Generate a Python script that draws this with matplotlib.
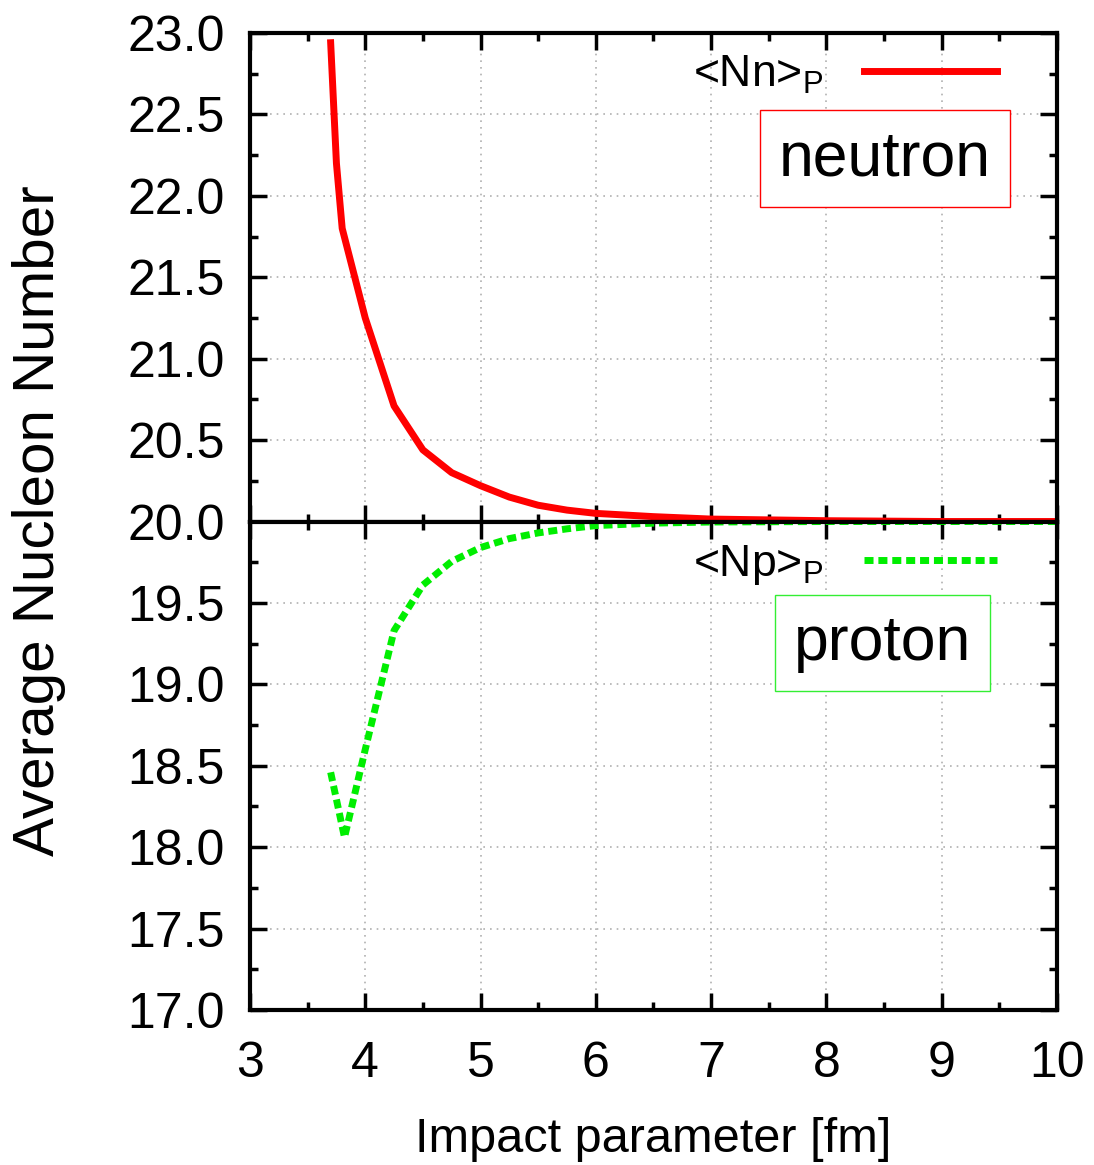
import matplotlib
matplotlib.use("Agg")
import matplotlib.pyplot as plt
import numpy as np

plt.rcParams['font.family'] = ['Liberation Sans', 'DejaVu Sans']
plt.rcParams['mathtext.fontset'] = 'custom'
plt.rcParams['mathtext.rm'] = 'Liberation Sans'

# neutron number vs impact parameter
b_n = [3.7, 3.75, 3.8, 4.0, 4.25, 4.5, 4.75, 5.0, 5.25, 5.5, 5.75, 6.0, 6.5, 7.0, 7.5, 8.0, 9.0, 10.0]
nn = [22.94, 22.2, 21.8, 21.25, 20.71, 20.44, 20.30, 20.22, 20.15, 20.10, 20.07, 20.05, 20.03, 20.015, 20.01, 20.005, 20.0, 20.0]

# proton number vs impact parameter
b_p = [3.7, 3.82, 4.0, 4.25, 4.5, 4.75, 5.0, 5.25, 5.5, 5.75, 6.0, 6.5, 7.0, 8.0, 9.0, 10.0]
npp = [18.46, 18.06, 18.6, 19.33, 19.61, 19.755, 19.84, 19.895, 19.93, 19.955, 19.975, 19.99, 19.997, 20.0, 20.0, 20.0]

top_ticks = [20.0, 20.5, 21.0, 21.5, 22.0, 22.5, 23.0]
bot_ticks = [17.0, 17.5, 18.0, 18.5, 19.0, 19.5]
x_ticks = [3, 4, 5, 6, 7, 8, 9, 10]

fig = plt.figure(figsize=(10.94, 11.65), dpi=100)
gs = fig.add_gridspec(2, 1, left=0.2285, right=0.966, top=0.9717, bottom=0.133, hspace=0)
ax1 = fig.add_subplot(gs[0])
ax2 = fig.add_subplot(gs[1], sharex=ax1)

for ax in (ax1, ax2):
    ax.set_xlim(3, 10)
    ax.set_xticks(x_ticks)
    ax.set_xticks(np.arange(3.5, 10, 1.0), minor=True)
    ax.grid(True, which='major', color='#b0b0b0', linestyle=(0, (1, 3)), linewidth=1.2)
    ax.tick_params(which='both', direction='in', top=True, right=True, width=2.5, labelsize=36)
    ax.tick_params(which='major', length=12)
    ax.tick_params(which='minor', length=6)
    ax.tick_params(axis='y', pad=18)
    for s in ax.spines.values():
        s.set_linewidth(3)

ax1.set_ylim(20, 23)
ax1.set_yticks(top_ticks)
ax1.set_yticks(np.arange(20.25, 23, 0.5), minor=True)
ax1.set_yticklabels([f"{t:.1f}" for t in top_ticks])
ax1.tick_params(axis='x', labelbottom=False)

ax2.set_ylim(17, 20)
ax2.set_yticks(bot_ticks)
ax2.set_yticks(np.arange(17.25, 20, 0.5), minor=True)
ax2.set_yticklabels([f"{t:.1f}" for t in bot_ticks])
ax2.tick_params(axis='x', pad=22)

ax1.plot(b_n, nn, color='#ff0000', linewidth=5, label='<Nn>$_{\\mathrm{P}}$')
ax2.plot(b_p, npp, color='#00ee00', linewidth=5, linestyle=(0, (1.3, 0.7)), label='<Np>$_{\\mathrm{P}}$')

for ax, ytop in ((ax1, 0.958), (ax2, 0.956)):
    ax.legend(loc='upper right', bbox_to_anchor=(0.926, ytop), frameon=False, markerfirst=False,
              fontsize=32, handlelength=3.0, borderaxespad=0, borderpad=0, handletextpad=0.9)

ax1.text(0.787, 0.743, "neutron", transform=ax1.transAxes, ha='center', va='center', fontsize=45,
         bbox=dict(boxstyle='square,pad=0.3', facecolor='white', edgecolor='#ff0000', linewidth=1))
ax2.text(0.784, 0.751, "proton", transform=ax2.transAxes, ha='center', va='center', fontsize=45,
         bbox=dict(boxstyle='square,pad=0.3', facecolor='white', edgecolor='#33ee33', linewidth=1))

fig.text(0.036, 0.553, "Average Nucleon Number", rotation=90, ha='center', va='center', fontsize=42)
ax2.set_xlabel("Impact parameter [fm]", fontsize=35, labelpad=22)

fig.savefig("out.png", dpi=100)
